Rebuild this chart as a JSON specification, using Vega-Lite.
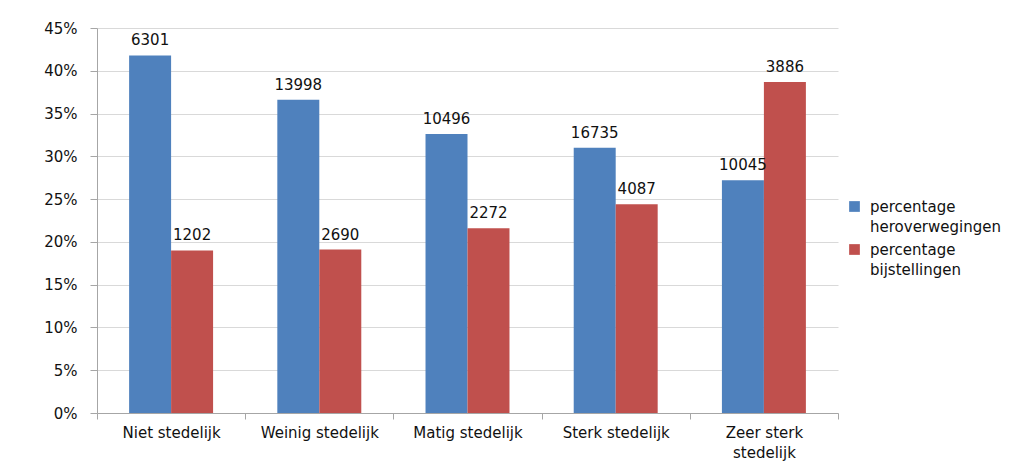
{
  "$schema": "https://vega.github.io/schema/vega-lite/v6.json",
  "width": 741,
  "height": 385,
  "autosize": {"type": "none"},
  "padding": {"left": 97, "top": 28, "right": 182, "bottom": 55},
  "background": "white",
  "config": {"view": {"stroke": null}},
  "data": {
    "values": [
      {"cat": "Niet stedelijk", "series": "percentage heroverwegingen", "pct": 0.418, "n": 6301},
      {"cat": "Niet stedelijk", "series": "percentage bijstellingen", "pct": 0.190, "n": 1202},
      {"cat": "Weinig stedelijk", "series": "percentage heroverwegingen", "pct": 0.366, "n": 13998},
      {"cat": "Weinig stedelijk", "series": "percentage bijstellingen", "pct": 0.191, "n": 2690},
      {"cat": "Matig stedelijk", "series": "percentage heroverwegingen", "pct": 0.326, "n": 10496},
      {"cat": "Matig stedelijk", "series": "percentage bijstellingen", "pct": 0.216, "n": 2272},
      {"cat": "Sterk stedelijk", "series": "percentage heroverwegingen", "pct": 0.310, "n": 16735},
      {"cat": "Sterk stedelijk", "series": "percentage bijstellingen", "pct": 0.244, "n": 4087},
      {"cat": "Zeer sterk stedelijk", "series": "percentage heroverwegingen", "pct": 0.272, "n": 10045},
      {"cat": "Zeer sterk stedelijk", "series": "percentage bijstellingen", "pct": 0.387, "n": 3886}
    ]
  },
  "encoding": {
    "x": {
      "field": "cat", "type": "nominal",
      "sort": ["Niet stedelijk", "Weinig stedelijk", "Matig stedelijk", "Sterk stedelijk", "Zeer sterk stedelijk"],
      "scale": {"paddingInner": 0, "paddingOuter": 0},
      "axis": {
        "title": null, "labelAngle": 0, "tickBand": "extent", "tickSize": 6,
        "domainColor": "#a6a6a6", "tickColor": "#a6a6a6", "grid": false,
        "labelFont": "DejaVu Sans", "labelFontSize": 15, "labelColor": "#111111",
        "labelPadding": 6, "labelLineHeight": 20,
        "labelExpr": "datum.label == 'Zeer sterk stedelijk' ? ['Zeer sterk', 'stedelijk'] : datum.label"
      }
    },
    "xOffset": {
      "field": "series", "type": "nominal",
      "sort": ["percentage heroverwegingen", "percentage bijstellingen"],
      "scale": {"paddingOuter": 0.765, "paddingInner": 0}
    },
    "y": {
      "field": "pct", "type": "quantitative",
      "scale": {"domain": [0, 0.45], "nice": false},
      "axis": {
        "title": null, "format": ".0%", "values": [0, 0.05, 0.1, 0.15, 0.2, 0.25, 0.3, 0.35, 0.4, 0.45],
        "gridColor": "#d9d9d9", "domainColor": "#a6a6a6", "tickColor": "#a6a6a6", "tickSize": 7,
        "labelFont": "DejaVu Sans", "labelFontSize": 15, "labelColor": "#111111", "labelPadding": 13
      }
    }
  },
  "layer": [
    {
      "mark": {"type": "bar"},
      "encoding": {
        "color": {
          "field": "series", "type": "nominal",
          "sort": ["percentage heroverwegingen", "percentage bijstellingen"],
          "scale": {"domain": ["percentage heroverwegingen", "percentage bijstellingen"], "range": ["#4F81BD", "#C0504D"]},
          "legend": {
            "title": null, "orient": "none", "legendX": 750, "legendY": 171,
            "symbolType": "square", "symbolSize": 115, "symbolStrokeWidth": 0,
            "labelFont": "DejaVu Sans", "labelFontSize": 15, "labelColor": "#111111",
            "labelExpr": "split(datum.label, ' ')",
            "rowPadding": 7, "labelOffset": 8,
            "encode": {"labels": {"update": {"lineHeight": {"value": 20}}}}
          }
        }
      }
    },
    {
      "mark": {"type": "text", "baseline": "bottom", "dy": -7, "font": "DejaVu Sans", "fontSize": 15, "color": "#111111"},
      "encoding": {"text": {"field": "n", "type": "quantitative", "format": "d"}}
    }
  ]
}
